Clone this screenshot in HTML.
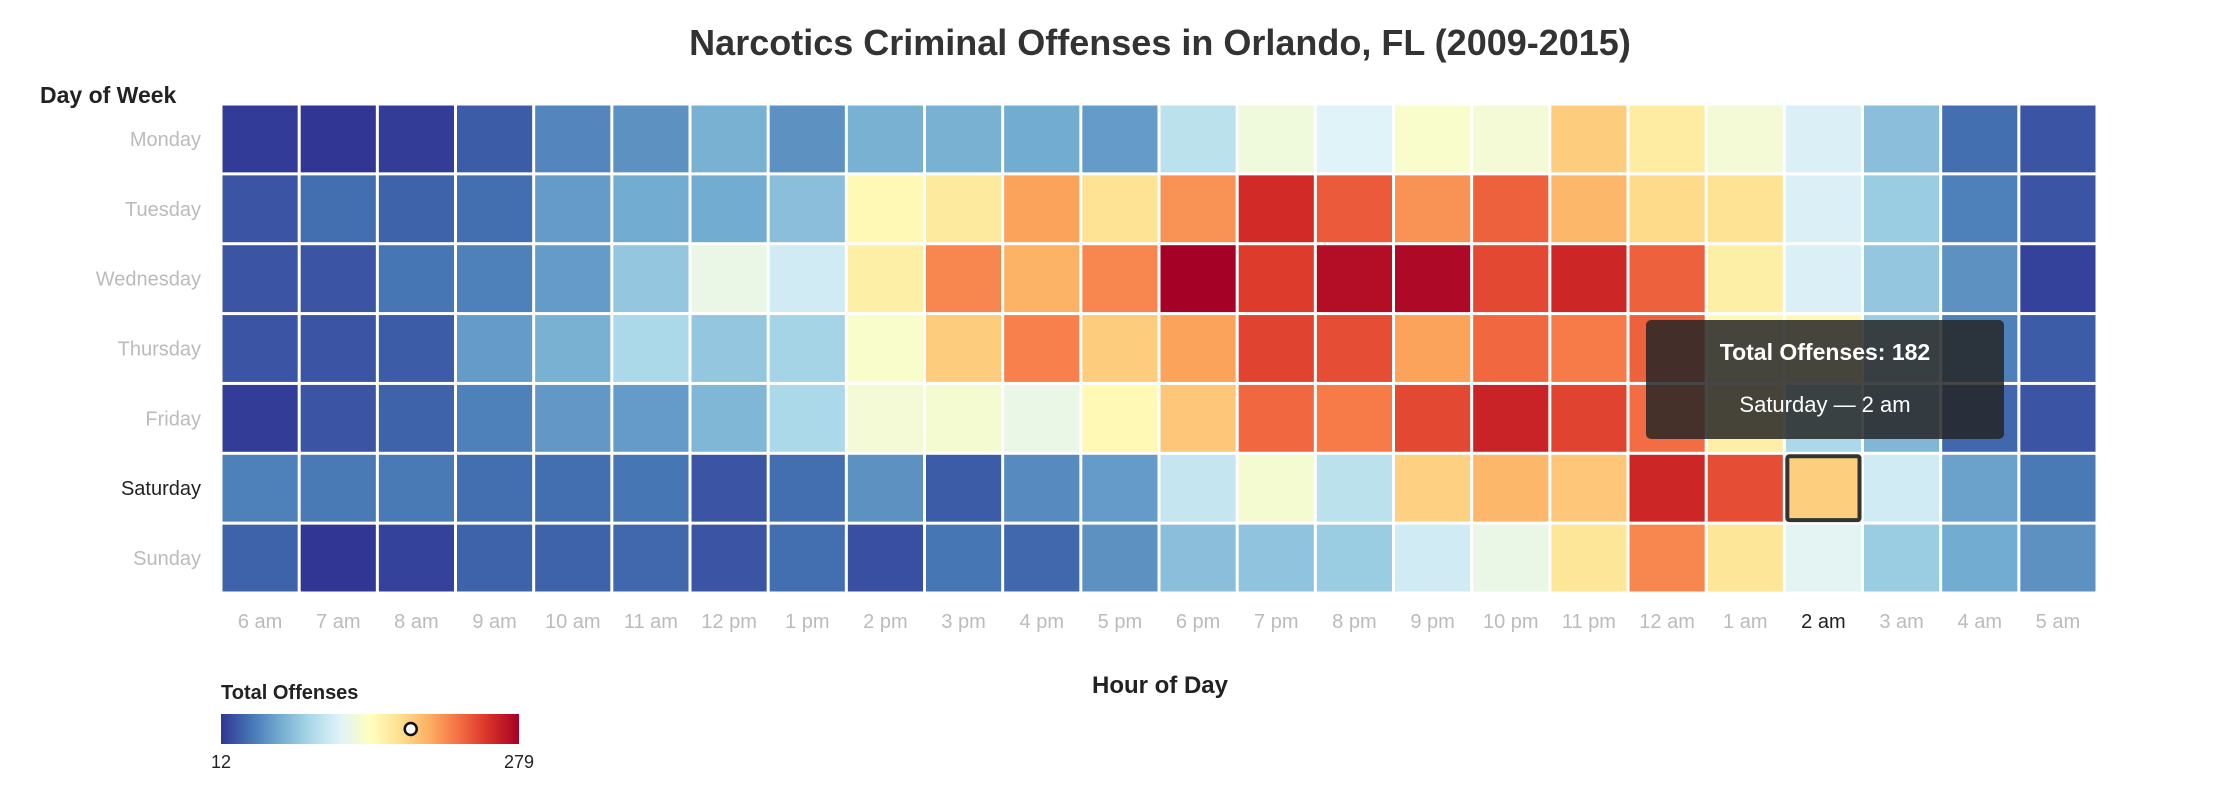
<!DOCTYPE html>
<html><head><meta charset="utf-8"><style>
html,body{margin:0;padding:0;background:#fff;}
body{width:2240px;height:798px;overflow:hidden;font-family:"Liberation Sans",sans-serif;}
</style></head><body>
<svg id="chart" width="2240" height="798" xmlns="http://www.w3.org/2000/svg">
<text x="1160" y="55" text-anchor="middle" font-size="36" font-weight="bold" fill="#333">Narcotics Criminal Offenses in Orlando, FL (2009-2015)</text>
<text x="40" y="103" font-size="23" font-weight="bold" fill="#222">Day of Week</text>
<text x="1160" y="693" text-anchor="middle" font-size="24" font-weight="bold" fill="#222">Hour of Day</text>
<g id="cells"></g><g id="ylabels"></g><g id="xlabels"></g>
<text x="221" y="699" font-size="20" font-weight="bold" fill="#222">Total Offenses</text>
<defs><linearGradient id="lg" x1="0" x2="1" y1="0" y2="0">
<stop offset="0" stop-color="#313695"/><stop offset="0.1" stop-color="#4575b4"/><stop offset="0.2" stop-color="#74add1"/><stop offset="0.3" stop-color="#abd9e9"/><stop offset="0.4" stop-color="#e0f3f8"/><stop offset="0.5" stop-color="#ffffbf"/><stop offset="0.6" stop-color="#fee090"/><stop offset="0.7" stop-color="#fdae61"/><stop offset="0.8" stop-color="#f46d43"/><stop offset="0.9" stop-color="#d73027"/><stop offset="1" stop-color="#a50026"/>
</linearGradient></defs>
<rect x="221" y="714" width="298" height="30" fill="url(#lg)"/>
<text x="221" y="768" text-anchor="middle" font-size="18" fill="#222">12</text>
<text x="519" y="768" text-anchor="middle" font-size="18" fill="#222">279</text>
<circle id="marker" cx="0" cy="729" r="6" fill="#fff" stroke="#111" stroke-width="2.5"/>
<g id="tip">
<rect x="1646" y="320" width="358" height="119" rx="5" fill="rgba(38,38,38,0.85)"/>
<text x="1825" y="360" text-anchor="middle" font-size="23" font-weight="bold" fill="#fff">Total Offenses: 182</text>
<text x="1825" y="412" text-anchor="middle" font-size="22" fill="#fff">Saturday — 2 am</text>
</g>
</svg>
<script>
const days=["Monday","Tuesday","Wednesday","Thursday","Friday","Saturday","Sunday"];
const hours=["6 am","7 am","8 am","9 am","10 am","11 am","12 pm","1 pm","2 pm","3 pm","4 pm","5 pm","6 pm","7 pm","8 pm","9 pm","10 pm","11 pm","12 am","1 am","2 am","3 am","4 am","5 am"];
const monday=[14,12,15,28,47,52,68,52,68,68,65,57,100,132,119,140,135,183,162,135,116,76,36,25];
const tuesday=[25,36,31,36,57,65,65,76,151,164,204,170,210,255,234,210,231,194,175,170,116,84,44,25];
const wednesday=[25,25,39,44,57,81,127,111,159,215,196,215,279,247,271,274,242,258,231,159,116,81,52,17];
const thursday=[25,25,28,57,68,92,81,89,140,183,218,183,204,244,239,204,228,220,231,151,151,84,44,28];
const friday=[15,25,31,44,55,57,71,92,135,137,127,151,186,228,220,242,260,244,226,159,92,71,33,25];
const saturday=[44,41,41,36,36,39,25,36,52,28,49,57,105,137,100,180,194,186,258,239,182,111,60,41];
const sunday=[31,12,17,31,31,33,25,36,23,39,33,52,76,79,84,111,127,167,215,167,121,84,65,52];
const series=[monday,tuesday,wednesday,thursday,friday,saturday,sunday];
const minV=12,maxV=279;
const selDay=5,selHour=20;
const pal=["#313695","#4575b4","#74add1","#abd9e9","#e0f3f8","#ffffbf","#fee090","#fdae61","#f46d43","#d73027","#a50026"];
function hex(h){return [1,3,5].map(i=>parseInt(h.substr(i,2),16));}
function color(v){let t=Math.max(0,Math.min(1,(v-minV)/(maxV-minV)))*10;let i=Math.min(9,Math.floor(t)),f=t-i;
const a=hex(pal[i]),b=hex(pal[i+1]);return "rgb("+a.map((c,k)=>Math.round(c+(b[k]-c)*f)).join(",")+")";}
const X0=221,X1=2097,Y0=104,Y1=593;
const cw=(X1-X0)/hours.length,ch=(Y1-Y0)/days.length;
const xs=i=>X0+i*cw, ys=j=>Y0+j*ch;
const NS="http://www.w3.org/2000/svg";
const gC=document.getElementById("cells"),gY=document.getElementById("ylabels"),gX=document.getElementById("xlabels");
series.forEach((row,j)=>{row.forEach((v,i)=>{
const r=document.createElementNS(NS,"rect");
r.setAttribute("x",xs(i)+1.5);r.setAttribute("y",ys(j)+1.5);r.setAttribute("width",cw-3);r.setAttribute("height",ch-3);
r.setAttribute("fill",color(v));


gC.appendChild(r);});});
const hl=document.createElementNS(NS,"rect");
hl.setAttribute("x",xs(selHour)+3);hl.setAttribute("y",ys(selDay)+3);hl.setAttribute("width",cw-6);hl.setAttribute("height",ch-6);
hl.setAttribute("fill",color(series[selDay][selHour]));hl.setAttribute("stroke","#333");hl.setAttribute("stroke-width","4");hl.setAttribute("rx","2");


gC.appendChild(hl);
days.forEach((d,j)=>{const t=document.createElementNS(NS,"text");
t.setAttribute("x",201);t.setAttribute("y",ys(j)+ch/2+7);t.setAttribute("text-anchor","end");t.setAttribute("font-size","20");
t.setAttribute("fill",j===selDay?"#222":"#bbb");t.textContent=d;


gY.appendChild(t);});
hours.forEach((h,i)=>{const t=document.createElementNS(NS,"text");
t.setAttribute("x",xs(i)+cw/2);t.setAttribute("y",628);t.setAttribute("text-anchor","middle");t.setAttribute("font-size","20");
t.setAttribute("fill",i===selHour?"#222":"#bbb");t.textContent=h;


gX.appendChild(t);});
document.getElementById("marker").setAttribute("cx",221+298*(series[selDay][selHour]-minV)/(maxV-minV));
</script>
</body></html>
